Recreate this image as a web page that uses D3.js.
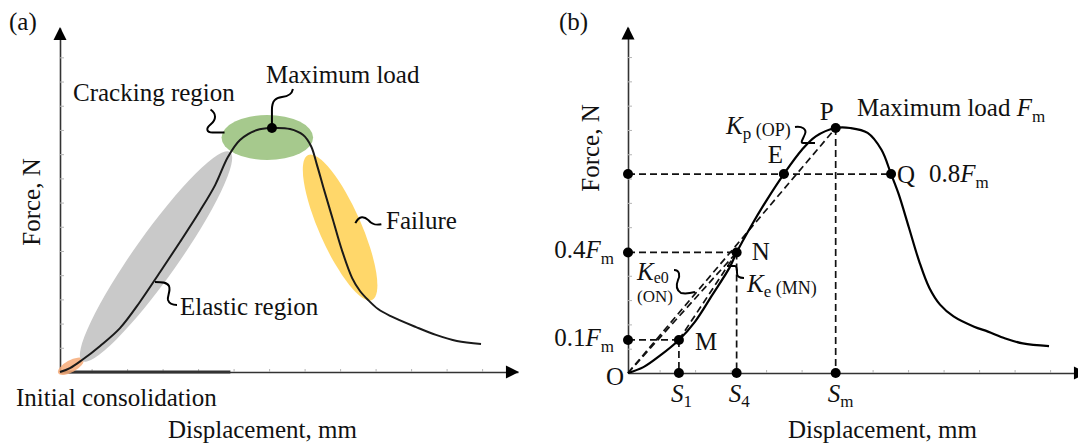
<!DOCTYPE html>
<html>
<head>
<meta charset="utf-8">
<title>Force - displacement schematic</title>
<script src="https://d3js.org/d3.v7.min.js"></script>
<style>
  body { margin: 0; background: #fff; }
  text { font-family: "Liberation Serif", "Times New Roman", serif; fill: #111; }
</style>
</head>
<body>
<svg id="chart" width="1078" height="445"></svg>
<script>
// ---- panel (a), displacement in tick units, force as fraction of peak
var dispA  = [0, 0.28, 0.62, 1.13, 1.69, 2.25, 2.82, 3.38, 3.94, 4.37, 4.73, 5.07, 5.55, 5.97, 6.48, 6.85, 7.07, 7.24, 7.44, 7.69, 7.94, 8.23, 8.45, 8.68, 8.96, 9.30, 10.03, 10.59, 11.18, 11.86];
var forceA = [0, 0.016, 0.049, 0.107, 0.180, 0.287, 0.410, 0.533, 0.660, 0.766, 0.881, 0.951, 0.992, 1.000, 0.996, 0.971, 0.926, 0.848, 0.746, 0.623, 0.500, 0.385, 0.332, 0.295, 0.258, 0.230, 0.184, 0.152, 0.127, 0.115];
var peakA = [5.97, 1.0];

// highlighted regions: two ends (disp, force)
var regionNames = ["consolidation", "elastic", "cracking", "failure"];
var regionEnds  = [[[-0.05, -0.005], [0.66, 0.052]],
                   [[0.62, 0.045], [4.79, 0.902]],
                   [[4.55, 0.961], [7.13, 0.961]],
                   [[6.99, 0.889], [8.79, 0.295]]];

// ---- panel (b)
var dispB  = [0, 0.434, 0.918, 1.434, 1.89, 2.38, 2.86, 3.06, 3.45, 3.93, 4.39, 4.90, 5.29, 5.85, 6.26, 6.75, 7.14, 7.41, 7.62, 7.91, 8.20, 8.49, 8.79, 9.17, 9.75, 10.14, 10.63, 11.12, 11.86];
var forceB = [0, 0.024, 0.073, 0.135, 0.21, 0.32, 0.43, 0.492, 0.595, 0.711, 0.812, 0.911, 0.966, 1.0, 1.0, 0.98, 0.911, 0.812, 0.732, 0.595, 0.457, 0.347, 0.279, 0.231, 0.189, 0.169, 0.141, 0.121, 0.11];
var pointNames = ["O", "M", "N", "E", "P", "Q"];
var pointDisp  = [0, 1.434, 3.06, 4.39, 5.85, 7.41];
var pointForce = [0, 0.135, 0.492, 0.812, 1.0, 0.812];

var svg = d3.select("#chart");

// scales
var xA = d3.scaleLinear().domain([0, 12.9]).range([60, 60 + 12.9 * 35.5]);
var yA = d3.scaleLinear().domain([0, 1]).range([372, 128]);
var xB = d3.scaleLinear().domain([0, 12.9]).range([628, 628 + 12.9 * 35.5]);
var yB = d3.scaleLinear().domain([0, 1]).range([373, 128]);

var xTicks = d3.range(12).map(function(k) { return 0.89 + k; });
var yTicks = d3.range(1, 14).map(function(k) { return k * 0.0992; });

function drawAxes(x, y, yTop) {
  var g = svg.append("g");
  var x0 = x.range()[0], y0 = y(0);
  var xAx = d3.axisBottom(x).tickValues(xTicks).tickSize(-3).tickSizeOuter(0).tickFormat("");
  g.append("g").attr("transform", "translate(0," + y0 + ")").call(xAx);
  var yScale = y.copy().domain([0, yTop]).range([y0, y(yTop)]);
  var yAx = d3.axisLeft(yScale).tickValues(yTicks).tickSize(-4).tickSizeOuter(0).tickFormat("");
  g.append("g").attr("transform", "translate(" + x0 + ",0)").call(yAx);
  g.selectAll(".domain").attr("stroke", "#333").attr("stroke-width", 1.6);
  g.selectAll(".tick line").attr("stroke", "#b5b5b5").attr("stroke-width", 1);
  // arrow heads
  var xEnd = x.range()[1], yEnd = y(yTop);
  g.append("path").attr("d", "M" + (xEnd + 1) + "," + y0 + "l-13,-6.5v13z").attr("fill", "#000");
  g.append("path").attr("d", "M" + x0 + "," + (yEnd - 1) + "l-6.5,13h13z").attr("fill", "#000");
  return g;
}

var line = function(x, y) {
  return d3.line().x(function(d) { return x(d[0]); }).y(function(d) { return y(d[1]); })
    .curve(d3.curveCatmullRom.alpha(0.5));
};

// ================= panel (a)
var regionColor = { consolidation: "#f6aa78", elastic: "#c9c9c9", cracking: "#a6c98d", failure: "#ffd76a" };
var regionWidth = { consolidation: 6, elastic: 22, cracking: 22.5, failure: 21 };

drawAxes(xA, yA, 1.41);
// darker start of the x axis
svg.append("line").attr("x1", xA(0)).attr("x2", xA(4.8)).attr("y1", yA(0)).attr("y2", yA(0))
  .attr("stroke", "#333").attr("stroke-width", 3);

var regions = svg.append("g");
regionNames.forEach(function(name, i) {
  var a = regionEnds[i][0], b = regionEnds[i][1];
  var x1 = xA(a[0]), y1 = yA(a[1]), x2 = xA(b[0]), y2 = yA(b[1]);
  var rx = Math.hypot(x2 - x1, y2 - y1) / 2;
  var ang = Math.atan2(y2 - y1, x2 - x1) * 180 / Math.PI;
  regions.append("ellipse")
    .attr("transform", "translate(" + (x1 + x2) / 2 + "," + (y1 + y2) / 2 + ") rotate(" + ang + ")")
    .attr("rx", rx).attr("ry", regionWidth[name])
    .attr("fill", regionColor[name]).attr("opacity", name === "consolidation" ? 0.85 : 1);
});

svg.append("path").datum(d3.zip(dispA, forceA))
  .attr("d", line(xA, yA)).attr("fill", "none").attr("stroke", "#1a1a1a").attr("stroke-width", 2);

svg.append("circle").attr("cx", xA(peakA[0])).attr("cy", yA(peakA[1])).attr("r", 5).attr("fill", "#000");

// leaders (a)
function leader(px, py, d) {
  svg.append("path").attr("transform", "translate(" + px + "," + py + ")").attr("d", d)
    .attr("fill", "none").attr("stroke", "#000").attr("stroke-width", 2);
}
leader(xA(peakA[0]), yA(peakA[1]), "M0,0 L0,-18 C0,-28 4,-30 10,-31 C17,-32 20,-34 21,-39");
leader(xA(4.55) + 3, yA(0.961) - 5, "M-14,-23 C-8,-19 -8,-13 -14,-8 C-19,-4 -18,0 -12,0 L0,0");
leader(xA(8.32), yA(0.61), "M0,0 C4,-8 9,-7 13,-3 C17,2 21,2 26,1");
leader(155, 282, "M0,0 C6,0 12,0 14,4 C16,9 12,14 13,18 C14,21 17,23 22,23");

var fs = 25;
function label(x, y, txt, anchor) {
  return svg.append("text").attr("x", x).attr("y", y).attr("font-size", fs)
    .attr("text-anchor", anchor || "start").text(txt);
}
label(9, 30, "(a)");
label(266, 83, "Maximum load");
label(73, 100.5, "Cracking region");
label(386, 229, "Failure");
label(180, 315, "Elastic region");
label(16, 406, "Initial consolidation");
label(168, 438, "Displacement, mm");
svg.append("text").attr("transform", "translate(40,202) rotate(-90)").attr("font-size", fs)
  .attr("text-anchor", "middle").text("Force, N");

// ================= panel (b)
drawAxes(xB, yB, 1.41);

var P = {};
pointNames.forEach(function(n, i) { P[n] = [pointDisp[i], pointForce[i]]; });

var dashed = svg.append("g").attr("fill", "none").attr("stroke", "#111")
  .attr("stroke-width", 1.7).attr("stroke-dasharray", "7,4");
function dline(a, b) {
  dashed.append("line").attr("x1", xB(a[0])).attr("y1", yB(a[1])).attr("x2", xB(b[0])).attr("y2", yB(b[1]));
}
dline([0, P.E[1]], P.Q);
dline([0, P.N[1]], P.N);
dline([0, P.M[1]], P.M);
dline(P.M, [P.M[0], 0]);
dline(P.N, [P.N[0], 0]);
dline(P.P, [P.P[0], 0]);
dline(P.O, P.P);
dline(P.O, P.N);
dline(P.M, P.N);

svg.append("path").datum(d3.zip(dispB, forceB))
  .attr("d", line(xB, yB)).attr("fill", "none").attr("stroke", "#000").attr("stroke-width", 2.2);

var dots = [P.M, P.N, P.E, P.P, P.Q,
            [0, P.M[1]], [0, P.N[1]], [0, P.E[1]],
            [P.M[0], 0], [P.N[0], 0], [P.P[0], 0]];
svg.append("g").selectAll("circle").data(dots).join("circle")
  .attr("cx", function(d) { return xB(d[0]); }).attr("cy", function(d) { return yB(d[1]); })
  .attr("r", 5).attr("fill", "#000");

// point letters
var letterOff = { O: [-22, 12], M: [16, 10], N: [15, 8], E: [-16, -11], P: [-16, -8], Q: [6, 9] };
pointNames.forEach(function(n) {
  var o = letterOff[n];
  label(xB(P[n][0]) + o[0], yB(P[n][1]) + o[1], n);
});

function richLabel(x, y, parts, anchor) {
  var t = svg.append("text").attr("x", x).attr("y", y).attr("font-size", fs)
    .attr("text-anchor", anchor || "start");
  parts.forEach(function(p) {
    t.append("tspan").text(p.t)
      .attr("font-style", p.i ? "italic" : null)
      .attr("font-size", p.s || null)
      .attr("dy", p.dy || null);
  });
  return t;
}
richLabel(857, 116, [{ t: "Maximum load " }, { t: "F", i: 1 }, { t: "m", s: 17, dy: 6 }]);
richLabel(929, 182, [{ t: "0.8" }, { t: "F", i: 1 }, { t: "m", s: 17, dy: 6 }]);
richLabel(614, 258, [{ t: "0.4" }, { t: "F", i: 1 }, { t: "m", s: 17, dy: 6 }], "end");
richLabel(614, 346, [{ t: "0.1" }, { t: "F", i: 1 }, { t: "m", s: 17, dy: 6 }], "end");
richLabel(726, 134, [{ t: "K", i: 1 }, { t: "p", s: 17, dy: 5 }, { t: " (OP)", s: 18, dy: -3 }]);
richLabel(637, 280, [{ t: "K", i: 1 }, { t: "e0", s: 16, dy: 3 }]);
label(637, 302, "(ON)").attr("font-size", 17);
richLabel(747, 292, [{ t: "K", i: 1 }, { t: "e", s: 17, dy: 5 }, { t: " (MN)", s: 18, dy: -3 }]);

var sNames = ["1", "4", "m"];
[P.M, P.N, P.P].forEach(function(p, i) {
  richLabel(xB(p[0]) - 8, 402, [{ t: "S", i: 1 }, { t: sNames[i], s: 17, dy: 5 }]);
});

leader(795, 127, "M0,0 C7,-1 12,2 10,7 C8,12 5,16 8,16 L20,16");
leader(674, 270, "M0,0 C6,0 6,6 4,10 C2,15 2,20 7,23 C12,24 17,23 21,22");
leader(727, 266, "M0,0 L8,0 C10,0 10,4 10,7 C10,10 11,12 17,12");

label(559, 30, "(b)");
label(788, 438, "Displacement, mm");
svg.append("text").attr("transform", "translate(599,148) rotate(-90)").attr("font-size", fs)
  .attr("text-anchor", "middle").text("Force, N");
</script>
</body>
</html>
